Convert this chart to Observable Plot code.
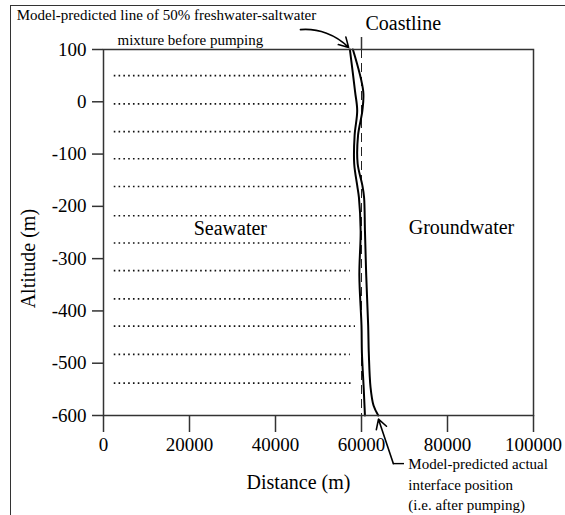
<!DOCTYPE html>
<html>
<head>
<meta charset="utf-8">
<script src="https://cdn.jsdelivr.net/npm/d3@7"></script>
<script src="https://cdn.jsdelivr.net/npm/@observablehq/plot@0.6"></script>
<style>
  html, body { margin: 0; padding: 0; background: #fff; }
  #wrap { position: relative; width: 565px; height: 515px; overflow: hidden; }
  #border { position: absolute; left: 10px; top: 5px; right: -5px; bottom: -5px;
            border-left: 1.5px solid #333; border-top: 1.5px solid #333; pointer-events: none; }
</style>
</head>
<body>
<div id="wrap"><div id="border"></div></div>
<script>
// ---- data ----
const xTicks = [0, 20000, 40000, 60000, 80000, 100000];
const yTicks = [100, 0, -100, -200, -300, -400, -500, -600];
const coastline = 60000;

// Model-predicted 50% freshwater-saltwater line before pumping
const beforeX = [57300, 58500, 59000, 58400, 58300, 59000, 59400, 59800, 59500, 60000, 60100, 60500, 60800];
const beforeY = [100, 20, -17, -64, -118, -160, -183, -246, -332, -428, -481, -546, -600];
// Model-predicted actual interface position (after pumping)
const afterX = [58000, 60400, 60200, 59200, 59100, 60200, 60600, 60800, 61100, 61550, 61700, 62100, 62800, 63900];
const afterY = [100, 20, -17, -64, -118, -160, -183, -246, -332, -428, -481, -546, -581, -600];

// Seawater dotted lines
const seaY = [50, -4, -57, -109, -162, -218, -270, -323, -377, -429, -483, -538];
const seaEnd = [56700, 57000, 57600, 56700, 57800, 58100, 57400, 57400, 57400, 58600, 57400, 57600];
const seaStart = 2500;

const labelBefore = ["Model-predicted line of 50% freshwater-saltwater", "mixture before pumping"];
const labelAfter = ["Model-predicted actual", "interface position", "(i.e. after pumping)"];

const before = beforeX.map((x, i) => ({x, y: beforeY[i]}));
const after = afterX.map((x, i) => ({x, y: afterY[i]}));
const sea = seaY.map((y, i) => ({y, x1: seaStart, x2: seaEnd[i]}));

const serif = "'Liberation Serif', 'Times New Roman', serif";

const chart = Plot.plot({
  width: 565,
  height: 515,
  marginLeft: 103,
  marginRight: 32,
  marginTop: 49,
  marginBottom: 100,
  style: {fontFamily: serif, fontSize: "19px", color: "#000", background: "transparent", overflow: "visible"},
  x: {domain: [0, 100000]},
  y: {domain: [-600, 100]},
  marks: [
    Plot.ruleY(sea, {y: "y", x1: "x1", x2: "x2", stroke: "#111", strokeWidth: 1.6, strokeDasharray: "1.6,3.2"}),
    Plot.ruleX([coastline], {y1: 100, y2: -600, stroke: "#222", strokeWidth: 1, strokeDasharray: "9,5"}),
    Plot.ruleX([coastline], {y1: 100, y2: 123, stroke: "#333", strokeWidth: 1.5}),
    Plot.line(before, {x: "x", y: "y", curve: "catmull-rom", stroke: "#000", strokeWidth: 2}),
    Plot.line(after, {x: "x", y: "y", curve: "catmull-rom", stroke: "#000", strokeWidth: 2}),
    Plot.frame({stroke: "#333", strokeWidth: 1.5}),
    Plot.axisX({ticks: xTicks, tickSize: 17, tickPadding: 5, tickFormat: d => String(d), label: null,
                fontSize: 19, stroke: "#333", strokeWidth: 1.5}),
    Plot.axisY({ticks: yTicks, tickSize: 11, tickPadding: 6, tickFormat: d => String(d), label: null,
                fontSize: 19, stroke: "#333", strokeWidth: 1.5}),
    Plot.text(["Altitude (m)"], {x: -17400, y: -300, text: d => d, rotate: -90, fontSize: 20}),
    Plot.text(["Distance (m)"], {x: 45350, y: -728, text: d => d, fontSize: 20}),
    Plot.text(["Seawater"], {x: 29500, y: -242, text: d => d, fontSize: 20}),
    Plot.text(["Groundwater"], {x: 83250, y: -240, text: d => d, fontSize: 20}),
    Plot.text(["Coastline"], {x: 60930, y: 150, text: d => d, textAnchor: "start", fontSize: 20}),
    Plot.text([labelBefore[0]], {x: -20200, y: 165, text: d => d, textAnchor: "start", fontSize: 15}),
    Plot.text([labelBefore[1]], {x: 20200, y: 117, text: d => d, fontSize: 15}),
    Plot.text(labelAfter, {x: 70900, y: [-694, -734, -772], text: d => d, textAnchor: "start", fontSize: 15}),
    Plot.arrow([0], {x1: 45800, y1: 138, x2: 57000, y2: 104, bend: 25, stroke: "#000", strokeWidth: 1.6, headLength: 10}),
    Plot.arrow([0], {x1: 67400, y1: -692, x2: 63950, y2: -607, stroke: "#000", strokeWidth: 1.6, headLength: 10}),
    Plot.ruleY([-692], {x1: 67400, x2: 70000, stroke: "#000", strokeWidth: 1.4})
  ]
});
document.getElementById("wrap").prepend(chart);
</script>
</body>
</html>
